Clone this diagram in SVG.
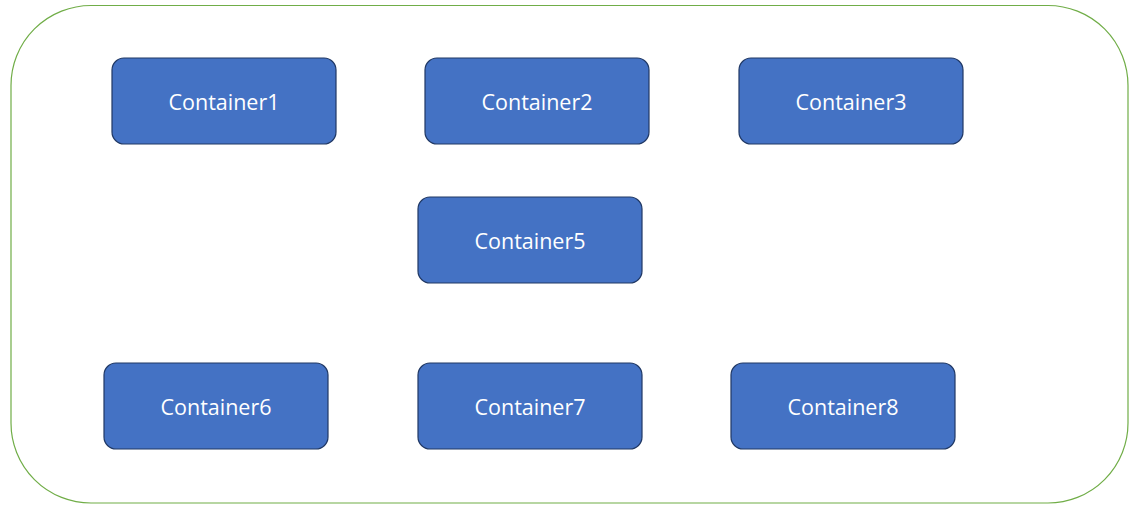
<svg xmlns="http://www.w3.org/2000/svg" width="1140" height="512" viewBox="0 0 1140 512">
<style>
.box{fill:#4472C4;stroke:#203864;stroke-width:1.2}
.lbl{font-family:"Open Sans","Liberation Sans",sans-serif;font-size:21.5px;fill:#ffffff;text-anchor:middle;dominant-baseline:central}
</style>
<rect width="1140" height="512" fill="#ffffff"/>
<rect id="outer" x="11" y="5.5" width="1117" height="497.5" rx="80" ry="80" fill="none" stroke="#70AD47" stroke-width="1.2"/>
<g id="connectors"></g>
<g id="c1"><rect class="box" x="112" y="58" width="224" height="86" rx="12"/><text class="lbl" x="224" y="101">Container1</text></g>
<g id="c2"><rect class="box" x="425" y="58" width="224" height="86" rx="12"/><text class="lbl" x="537" y="101">Container2</text></g>
<g id="c3"><rect class="box" x="739" y="58" width="224" height="86" rx="12"/><text class="lbl" x="851" y="101">Container3</text></g>
<g id="c5"><rect class="box" x="418" y="197" width="224" height="86" rx="12"/><text class="lbl" x="530" y="240">Container5</text></g>
<g id="c6"><rect class="box" x="104" y="363" width="224" height="86" rx="12"/><text class="lbl" x="216" y="406">Container6</text></g>
<g id="c7"><rect class="box" x="418" y="363" width="224" height="86" rx="12"/><text class="lbl" x="530" y="406">Container7</text></g>
<g id="c8"><rect class="box" x="731" y="363" width="224" height="86" rx="12"/><text class="lbl" x="843" y="406">Container8</text></g>
</svg>
